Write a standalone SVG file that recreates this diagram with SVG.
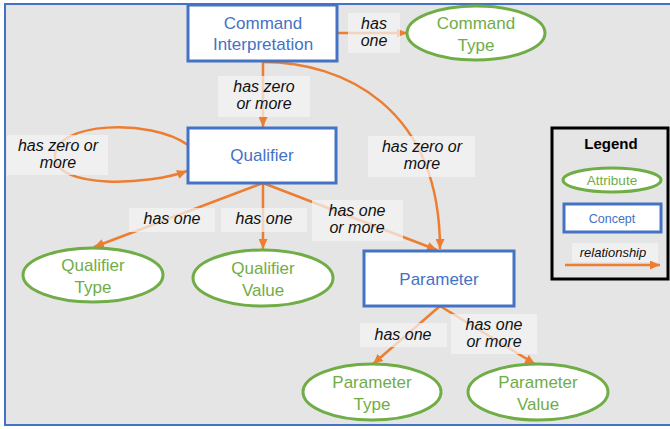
<svg xmlns="http://www.w3.org/2000/svg" width="670" height="429" viewBox="0 0 670 429">
<defs>
<marker id="ah" markerUnits="userSpaceOnUse" markerWidth="11" markerHeight="9" refX="10" refY="4.5" orient="auto">
<path d="M0,0 L10,4.5 L0,9 z" fill="#ed7d31"/>
</marker>
<style>
.con{fill:none;stroke:#ed7d31;stroke-width:2.5;marker-end:url(#ah)}
.lbl{fill:#f4f4f4;fill-opacity:0.72}
.lt{font-family:"Liberation Sans",Arial,sans-serif;font-style:italic;font-size:16px;fill:#111;text-anchor:middle}
.concept rect{fill:#fff;stroke:#4472c4;stroke-width:3}
.concept text{font-family:"Liberation Sans",Arial,sans-serif;font-size:17px;fill:#4472c4;text-anchor:middle}
.attr ellipse{fill:#fff;stroke:#70ad47;stroke-width:3}
.attr text{font-family:"Liberation Sans",Arial,sans-serif;font-size:17px;fill:#70ad47;text-anchor:middle}
</style>
</defs>
<rect x="0" y="0" width="670" height="429" fill="#fff"/>
<rect x="5" y="4" width="672" height="421" fill="#e5e5e5" stroke="#4472c4" stroke-width="2"/>

<g id="connectors">
<line class="con" x1="337" y1="33" x2="407" y2="33"/>
<line class="con" x1="263" y1="61" x2="263" y2="127"/>
<path class="con" d="M263,62 C342,62 440,106 440,249"/>
<path class="con" d="M188,145 C150,118 55,122 55,156 C55,190 150,185 187,171"/>
<line class="con" x1="263" y1="183" x2="94" y2="247"/>
<line class="con" x1="263" y1="183" x2="263" y2="249"/>
<line class="con" x1="263" y1="183" x2="437" y2="250"/>
<line class="con" x1="440" y1="306" x2="373" y2="364"/>
<line class="con" x1="440" y1="306" x2="535" y2="364"/>
</g>

<g id="labels">
<rect class="lbl" x="348" y="13" width="52" height="40"/>
<text class="lt" x="374" y="29">has</text>
<text class="lt" x="374" y="46">one</text>
<rect class="lbl" x="218" y="76" width="92" height="41"/>
<text class="lt" x="264" y="92">has zero</text>
<text class="lt" x="264" y="109">or more</text>
<rect class="lbl" x="7" y="135" width="101" height="40"/>
<text class="lt" x="58" y="151">has zero or</text>
<text class="lt" x="58" y="168">more</text>
<rect class="lbl" x="368" y="136" width="107" height="41"/>
<text class="lt" x="422" y="152">has zero or</text>
<text class="lt" x="422" y="169">more</text>
<rect class="lbl" x="129" y="208" width="86" height="24"/>
<text class="lt" x="172" y="224">has one</text>
<rect class="lbl" x="221" y="208" width="86" height="24"/>
<text class="lt" x="264" y="224">has one</text>
<rect class="lbl" x="312" y="200" width="91" height="41"/>
<text class="lt" x="357" y="216">has one</text>
<text class="lt" x="357" y="233">or more</text>
<rect class="lbl" x="360" y="323" width="87" height="24"/>
<text class="lt" x="403" y="340">has one</text>
<rect class="lbl" x="451" y="314" width="86" height="40"/>
<text class="lt" x="494" y="330">has one</text>
<text class="lt" x="494" y="347">or more</text>
</g>

<g id="command-interpretation" class="concept">
<rect x="188" y="5" width="149" height="56"/>
<text x="263" y="29">Command</text>
<text x="263" y="50">Interpretation</text>
</g>
<g id="command-type" class="attr">
<ellipse cx="476" cy="33" rx="69" ry="27"/>
<text x="476" y="29">Command</text>
<text x="476" y="51">Type</text>
</g>
<g id="qualifier" class="concept">
<rect x="188" y="128" width="148" height="55"/>
<text x="262" y="161">Qualifier</text>
</g>
<g id="qualifier-type" class="attr">
<ellipse cx="93" cy="275" rx="70" ry="27"/>
<text x="93" y="271">Qualifier</text>
<text x="93" y="293">Type</text>
</g>
<g id="qualifier-value" class="attr">
<ellipse cx="263" cy="278" rx="70" ry="28"/>
<text x="263" y="274">Qualifier</text>
<text x="263" y="296">Value</text>
</g>
<g id="parameter" class="concept">
<rect x="364" y="251" width="150" height="55"/>
<text x="439" y="285">Parameter</text>
</g>
<g id="parameter-type" class="attr">
<ellipse cx="372" cy="392" rx="69" ry="28"/>
<text x="372" y="388">Parameter</text>
<text x="372" y="410">Type</text>
</g>
<g id="parameter-value" class="attr">
<ellipse cx="538" cy="392" rx="70" ry="28"/>
<text x="538" y="388">Parameter</text>
<text x="538" y="410">Value</text>
</g>

<g id="legend">
<rect x="552" y="128" width="116" height="151" fill="#e5e5e5" stroke="#000" stroke-width="3"/>
<text x="611" y="149" font-family="Liberation Sans,Arial,sans-serif" font-weight="bold" font-size="15" text-anchor="middle" fill="#000">Legend</text>
<ellipse cx="612" cy="180" rx="49" ry="12" fill="#fff" stroke="#70ad47" stroke-width="3"/>
<text x="612" y="185" font-family="Liberation Sans,Arial,sans-serif" font-size="13.5" text-anchor="middle" fill="#70ad47">Attribute</text>
<rect x="564" y="204" width="97" height="28" fill="#fff" stroke="#4472c4" stroke-width="3"/>
<text x="612" y="223" font-family="Liberation Sans,Arial,sans-serif" font-size="12.5" text-anchor="middle" fill="#4472c4">Concept</text>
<rect class="lbl" x="572" y="243" width="86" height="19"/>
<text x="613" y="257" font-family="Liberation Sans,Arial,sans-serif" font-style="italic" font-size="13" text-anchor="middle" fill="#111">relationship</text>
<line class="con" x1="565" y1="265" x2="660" y2="265"/>
</g>
</svg>
